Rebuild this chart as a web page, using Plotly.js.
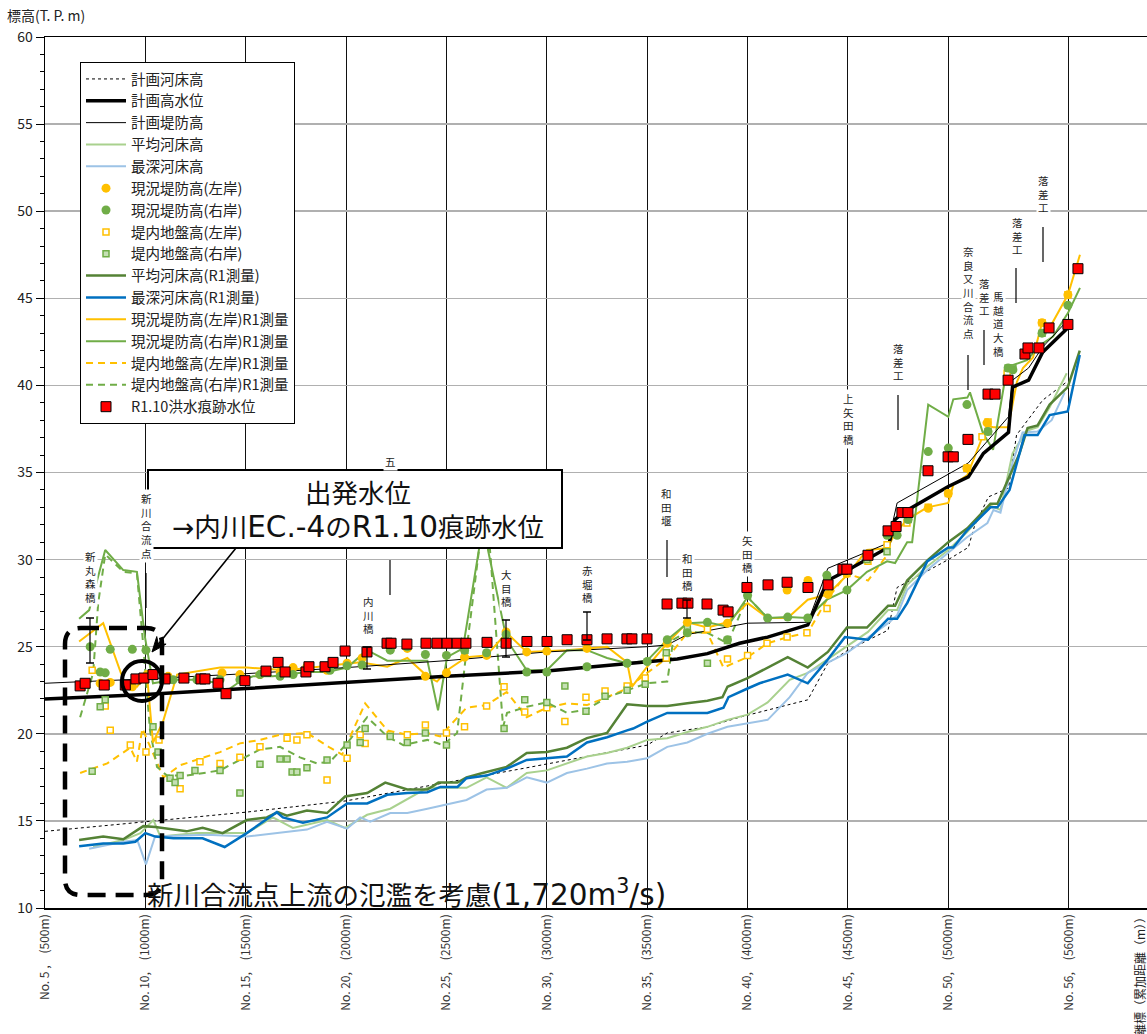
<!DOCTYPE html>
<html><head><meta charset="utf-8">
<script src="https://cdn.plot.ly/plotly-3.0.1.min.js"></script>
<style>html,body{margin:0;padding:0;background:#fff;}</style>
</head><body>
<div id="chart" style="width:1147px;height:1034px;"></div>
<script>
// ---------------- DATA ----------------
const tickVals = [500,1000,1500,2000,2500,3000,3500,4000,4500,5000,5600];
const tickText = ["No. 5 ,　(500m)","No. 10,　(1000m)","No. 15,　(1500m)","No. 20,　(2000m)","No. 25,　(2500m)","No. 30,　(3000m)","No. 35,　(3500m)","No. 40,　(4000m)","No. 45,　(4500m)","No. 50,　(5000m)","No. 56,　(5600m)"];

const planBedX = [500,1000,1500,2000,2500,2900,3500,3600,3800,3960,4300,4400,4500,4700,4745,5000,5100,5130,5200,5300,5340,5470,5590];
const planBedY = [14.4,14.95,15.5,16.15,17.2,18.05,19.35,20.05,20.4,20.95,21.95,24.05,24.8,25.95,28.4,30.0,30.7,31.9,33.6,34.1,37.15,39.15,40.2];

const planHwlX = [500,1000,1500,2000,2500,3000,3500,3650,3800,3960,4100,4300,4400,4500,4700,4735,4775,5000,5100,5175,5300,5320,5400,5470,5600];
const planHwlY = [22.0,22.25,22.6,22.95,23.3,23.6,24.1,24.3,24.6,25.2,25.55,26.25,28.8,29.4,30.7,32.3,32.7,34.2,34.75,36.1,37.3,39.9,40.3,41.9,43.35];

const planLeveeX = [500,1000,1500,2000,2500,3000,3500,3600,3700,4000,4300,4400,4700,4745,5100,5300,5320,5400,5470,5600];
const planLeveeY = [22.9,23.15,23.45,23.8,24.2,24.7,25.0,25.1,25.7,26.35,26.4,29.5,30.95,33.25,35.55,38.2,40.3,41.0,42.2,43.8];

const avgBedX = [740,890,975,1040,1075,1255,1505,1635,1735,1905,1995,2105,2220,2405,2600,2700,2800,2900,3000,3100,3200,3300,3400,3500,3600,3700,3800,3900,4000,4100,4210,4300,4495,4600,4700,4745,4795,4895,5000,5095,5210,5260,5320,5390,5445,5505,5590];
const avgBedY = [13.5,13.9,14.3,15.05,14.1,14.3,14.3,15.2,14.6,15.05,14.6,15.35,15.7,16.9,16.9,17.5,16.9,17.75,17.9,18.3,18.7,18.9,19.2,19.65,19.75,20.1,20.4,20.8,21.1,21.8,23.1,23.5,25.0,25.85,27.1,27.1,28.55,29.6,30.55,31.6,33.1,32.85,36.1,37.4,37.6,38.75,40.7];

const deepBedX = [720,890,960,1003,1048,1305,1505,1805,1905,2005,2070,2120,2220,2305,2405,2600,2700,2800,2900,3000,3100,3200,3300,3400,3500,3600,3700,3800,3900,4000,4100,4210,4300,4495,4600,4700,4745,4795,4895,5000,5095,5195,5225,5260,5320,5370,5445,5515,5580];
const deepBedY = [13.4,13.8,13.9,12.5,14.1,14.2,14.1,14.5,14.95,14.55,15.2,14.95,15.45,15.45,15.7,16.2,16.8,16.9,17.5,17.2,17.75,18.0,18.3,18.4,18.6,19.25,19.5,20.0,20.4,20.6,20.8,22.1,23.5,24.65,25.5,26.35,26.8,28.25,29.4,30.4,31.3,32.1,32.85,32.7,35.55,37.3,37.35,38.0,39.6];

const avgBedR1X = [670,790,890,990,1050,1205,1285,1385,1505,1605,1660,1705,1805,1905,1995,2105,2195,2305,2405,2460,2555,2600,2680,2800,2900,3000,3100,3200,3300,3400,3500,3600,3700,3800,3875,3900,4000,4100,4200,4300,4400,4495,4595,4700,4735,4795,4900,5000,5095,5210,5245,5355,5395,5445,5505,5595,5655];
const avgBedR1Y = [13.9,14.1,13.95,14.7,14.65,14.4,14.6,14.3,15.05,15.2,15.5,15.3,15.6,15.45,16.4,16.6,17.2,16.8,16.8,17.2,17.2,17.5,17.75,18.1,18.9,18.95,19.2,19.75,20.05,21.7,21.6,21.6,21.75,21.9,22.1,22.7,23.2,23.8,24.4,23.8,24.7,26.1,26.1,27.35,27.35,28.8,30.0,31.0,31.8,33.2,33.2,36.1,37.55,37.7,38.9,39.9,42.0];

const deepBedR1X = [670,790,890,950,1000,1050,1140,1285,1395,1505,1655,1685,1785,1905,2005,2105,2205,2305,2405,2470,2555,2600,2700,2800,2900,3000,3100,3200,3300,3400,3430,3500,3600,3700,3800,3880,3905,4000,4060,4200,4300,4395,4485,4600,4700,4745,4795,4895,5000,5025,5095,5210,5245,5305,5380,5445,5505,5595,5655];
const deepBedR1Y = [13.55,13.7,13.7,13.8,14.3,14.1,14.0,14.0,13.5,14.3,15.5,15.2,14.9,15.2,16.0,16.0,16.5,16.6,16.65,16.95,16.95,17.45,17.6,18.0,18.5,18.6,18.7,19.5,19.8,20.2,20.3,20.7,21.2,21.2,21.2,21.5,22.1,22.6,22.9,23.4,22.9,24.2,25.55,25.4,26.6,26.6,27.5,29.9,30.7,30.7,31.7,33.0,33.0,34.0,37.15,37.15,38.3,38.5,41.75];

const leftLeveeR1X = [670,790,890,958,1008,1038,1088,1158,1372,1505,1705,1855,2070,2205,2305,2405,2453,2503,2600,2700,2800,2900,3000,3100,3200,3300,3400,3424,3500,3600,3700,3800,3900,4000,4100,4200,4300,4400,4495,4595,4695,4735,4795,4895,5000,5025,5095,5168,5193,5223,5298,5342,5372,5422,5467,5507,5596,5656];
const leftLeveeR1Y = [25.3,26.35,23.1,22.7,23.4,19.5,20.7,23.4,23.8,23.8,23.65,23.85,24.1,23.85,24.35,23.3,23.0,23.65,24.4,24.5,25.8,24.7,24.75,24.8,24.9,25.0,24.1,22.7,23.85,25.2,26.4,26.1,26.4,27.5,26.65,26.65,27.7,28.0,29.1,30.55,30.65,31.5,32.3,33.0,33.25,34.3,34.85,37.05,37.7,37.6,37.6,40.2,41.0,41.6,43.6,43.35,45.2,47.5];

const rightLeveeR1X = [670,720,800,890,958,998,1038,1138,1257,1372,1397,1471,1536,1636,1805,1905,2005,2105,2205,2405,2458,2503,2582,2667,2692,2707,2800,2900,3000,3100,3200,3300,3400,3500,3600,3700,3800,3900,4000,4100,4200,4300,4395,4495,4595,4695,4735,4795,4820,4900,5000,5025,5095,5108,5173,5223,5293,5392,5457,5522,5596,5656];
const rightLeveeR1Y = [26.6,27.1,30.55,29.4,29.3,25.55,22.9,23.1,23.1,22.9,22.4,23.0,23.3,23.3,23.55,23.55,23.8,24.8,24.2,24.2,21.35,24.4,24.9,30.95,33.5,30.55,25.4,23.65,23.65,24.8,24.8,24.35,24.05,24.2,25.4,26.35,26.4,26.15,27.85,26.65,26.7,26.65,27.7,28.25,29.3,29.9,29.8,31.0,31.0,38.9,38.2,39.2,39.3,39.6,37.25,36.3,41.05,41.45,42.3,42.8,44.15,45.6];

const leftGroundR1X = [675,810,925,958,985,1090,1175,1372,1471,1571,1671,1805,1920,1980,2095,2205,2305,2405,2468,2600,2700,2800,2900,3000,3100,3200,3300,3400,3500,3600,3700,3800,3880,4000,4100,4200,4300,4395,4495,4600,4695];
const leftGroundR1Y = [17.75,18.3,19.2,18.4,20.3,17.5,18.2,18.95,19.45,19.65,19.95,20.05,19.2,18.8,21.75,20.2,19.95,20.05,19.85,21.5,21.65,22.4,20.95,21.5,21.75,21.65,22.1,22.6,23.5,24.35,25.8,25.8,23.8,24.4,25.2,25.55,25.8,27.7,29.2,28.8,30.25];

const rightGroundR1X = [675,740,765,800,890,958,990,1023,1058,1108,1207,1372,1471,1571,1671,1770,1855,1920,2005,2105,2205,2285,2405,2483,2553,2602,2667,2692,2717,2782,2802,2900,3000,3100,3200,3300,3400,3500,3600,3630,3700,3800,3900,4000,4100];
const rightGroundR1Y = [20.95,23.5,27.5,30.3,29.3,29.2,25.0,20.2,18.1,17.6,17.6,17.9,18.5,19.1,19.25,18.65,18.3,18.4,19.45,20.95,19.85,19.35,19.65,19.35,20.05,25.0,31.0,33.5,30.55,20.4,21.2,21.55,21.8,21.2,21.4,22.1,22.5,22.9,23.0,25.4,25.85,25.8,25.2,27.85,26.65];

const leftLeveeX = [775,825,935,1008,1113,1382,1471,1571,1671,1736,1805,1905,2005,2080,2220,2305,2395,2500,2590,2700,2797,2900,3000,3200,3600,3700,3900,4197,4301,4401,4495,4900,5000,5093,5193,5467,5596];
const leftLeveeY = [22.9,22.95,22.7,23.4,23.3,23.5,23.4,23.4,23.55,23.8,23.85,23.65,24.05,24.35,24.9,24.9,23.3,23.5,24.4,24.5,25.85,24.7,24.75,24.9,25.2,26.4,26.35,28.25,28.8,28.0,29.2,32.95,33.8,35.25,37.85,43.6,45.2];

const rightLeveeX = [725,775,800,825,935,1003,1138,1257,1372,1471,1571,1671,1736,1920,2005,2080,2220,2305,2395,2500,2590,2700,2797,2900,3000,3200,3400,3500,3600,3700,3800,3900,4000,4100,4200,4300,4395,4495,4695,4745,4800,4900,5000,5093,5198,5298,5322,5467,5596];
const rightLeveeY = [25.0,23.55,23.5,24.85,24.85,24.8,23.1,23.1,23.1,23.1,23.4,23.3,23.4,23.65,23.9,23.95,24.8,25.0,24.55,24.5,24.8,24.65,25.7,23.55,23.55,23.85,24.05,24.15,25.4,25.8,26.4,25.4,27.95,26.65,26.7,26.65,29.1,28.25,31.4,31.4,32.3,36.2,36.4,38.9,37.35,41.0,40.9,43.0,44.6];

const leftGroundX = [735,800,825,925,1003,1068,1173,1272,1372,1471,1571,1706,1755,1805,1905,2005,2070,2095,2220,2305,2395,2500,2590,2700,2787,2890,3000,3090,3195,3290,3400,3490,3595,3700,3800,3900,4000,4097,4197,4296,4396,4495,4600,4695,4794,4900,5000,5093,5168,5198,5293,5467,5596];
const leftGroundY = [23.65,21.6,20.2,19.35,18.95,19.65,16.85,18.4,18.3,18.65,19.25,19.75,19.65,19.95,17.35,18.6,19.95,19.45,19.95,19.95,20.5,20.05,20.4,21.6,22.7,21.25,21.5,20.7,22.1,22.45,22.75,23.2,24.35,25.8,26.0,24.3,24.5,25.2,25.55,25.8,27.2,29.2,29.9,30.85,32.1,33.0,33.8,35.25,37.05,37.9,40.7,43.6,45.2];

const rightGroundX = [735,775,800,1038,1063,1123,1148,1173,1247,1372,1471,1571,1671,1706,1731,1755,1805,1905,2005,2070,2095,2220,2305,2395,2500,2592,2787,2890,3000,3090,3195,3290,3400,3490,3595,3700,3800,3900,4000,4396,4595,4695,4800,5198,5298,5322,5467];
const rightGroundY = [17.85,21.55,21.95,20.4,18.95,17.45,17.2,17.6,17.9,17.9,16.6,18.25,18.55,18.55,17.8,17.8,18.05,18.5,19.35,19.5,20.3,19.85,19.5,20.05,19.35,24.8,20.3,21.95,21.8,22.75,21.3,22.15,22.5,22.85,24.65,26.1,24.05,25.35,27.95,29.0,30.0,30.45,32.3,37.35,41.0,41.0,43.0];

const floodMarkX = [675,700,795,900,953,993,1038,1098,1192,1277,1297,1362,1402,1496,1601,1661,1696,1800,1815,1895,1935,1995,2104,2204,2224,2303,2398,2453,2503,2553,2597,2702,2797,2901,3001,3101,3200,3300,3399,3424,3499,3599,3673,3703,3798,3878,3903,3997,4102,4197,4301,4401,4475,4495,4600,4700,4740,4769,4799,4899,4999,5025,5098,5198,5233,5298,5382,5397,5452,5502,5596,5646];
const floodMarkY = [22.75,22.9,22.8,22.8,23.15,23.2,23.4,23.15,23.2,23.15,23.15,22.9,22.3,23.05,23.6,24.1,23.55,23.55,23.85,23.85,24.1,24.75,24.7,25.2,25.2,25.15,25.2,25.2,25.2,25.2,25.2,25.25,25.2,25.3,25.3,25.4,25.4,25.45,25.45,25.45,25.45,27.45,27.5,27.5,27.45,27.1,27.0,28.4,28.55,28.7,28.4,28.55,29.45,29.45,30.25,31.65,31.9,32.7,32.7,35.1,35.9,35.9,36.9,39.5,39.5,40.3,41.8,42.15,42.15,43.3,43.5,46.7];

// place labels: [text, pixel x, pixel y of first char]
const placeLabels = [
  ['新丸森橋', 90, 557], ['新川合流点', 146, 499], ['五', 390, 461], ['内川橋', 368, 601],
  ['大目橋', 506, 574], ['赤堀橋', 587, 570], ['和田堰', 667, 493], ['和田橋', 687, 558],
  ['矢田橋', 747, 540], ['上矢田橋', 848, 399], ['落差工', 898, 348], ['奈良又川合流点', 968, 252],
  ['落差工', 984, 283], ['馬越道大橋', 998, 297], ['落差工', 1017, 222], ['落差工', 1043, 180]
];
// leader lines: [x, y top, y bottom, caps]
const leaderLines = [
  [90,618,663,true],[146,573,608,false],[390,560,595,false],[367,647,669,true],
  [506,620,657,true],[587,612,640,true],[667,540,577,false],[687,600,618,true],
  [898,395,430,false],[968,355,390,false],[984,330,365,false],[1016,268,303,false],[1043,227,262,false]
];

// ---------------- LAYOUT HELPERS ----------------
const FONT = '"Noto Sans CJK JP", "Noto Sans", sans-serif';
const FONT_BIG = '"DejaVu Sans", "Noto Sans CJK JP", sans-serif';
const PX0 = 45, PY0 = 908, PW = 1102, PH = 871;
const fx = px => (px - PX0) / PW;
const fy = py => (PY0 - py) / PH;
const big = (s, size) => '<span style="font-size:' + size + 'px">' + s + '</span>';

const GOLD = '#FFC000', GREEN = '#70AD47', DKGREEN = '#548235', BLUE = '#0070C0', LTGREEN = '#A9D18E', LTBLUE = '#9DC3E6';

function ln(name, x, y, color, width, dash, rank) {
  return {type:'scatter', mode:'lines', name, x, y, line:{color, width, dash}, legendrank: rank, hoverinfo:'skip'};
}
function mk(name, x, y, symbol, size, fill, lc, lw, rank) {
  return {type:'scatter', mode:'markers', name, x, y, marker:{symbol, size, color: fill, line:{color: lc, width: lw}}, legendrank: rank, hoverinfo:'skip'};
}

const traces = [
  ln('計画河床高', planBedX, planBedY, '#000', 1, 'dot', 1),
  ln('平均河床高', avgBedX, avgBedY, LTGREEN, 2, 'solid', 4),
  ln('最深河床高', deepBedX, deepBedY, LTBLUE, 2, 'solid', 5),
  ln('平均河床高(R1測量)', avgBedR1X, avgBedR1Y, DKGREEN, 2.5, 'solid', 10),
  ln('最深河床高(R1測量)', deepBedR1X, deepBedR1Y, BLUE, 2.5, 'solid', 11),
  ln('堤内地盤高(左岸)R1測量', leftGroundR1X, leftGroundR1Y, GOLD, 2, '7px,5px', 14),
  ln('堤内地盤高(右岸)R1測量', rightGroundR1X, rightGroundR1Y, GREEN, 2, '7px,5px', 15),
  ln('現況堤防高(左岸)R1測量', leftLeveeR1X, leftLeveeR1Y, GOLD, 2, 'solid', 12),
  ln('現況堤防高(右岸)R1測量', rightLeveeR1X, rightLeveeR1Y, GREEN, 2, 'solid', 13),
  ln('計画堤防高', planLeveeX, planLeveeY, '#000', 1, 'solid', 3),
  ln('計画高水位', planHwlX, planHwlY, '#000', 3.5, 'solid', 2),
  mk('堤内地盤高(左岸)', leftGroundX, leftGroundY, 'square', 6, '#fff', GOLD, 1.5, 8),
  mk('堤内地盤高(右岸)', rightGroundX, rightGroundY, 'square', 6, '#C5E0B4', GREEN, 1.5, 9),
  mk('現況堤防高(左岸)', leftLeveeX, leftLeveeY, 'circle', 9, GOLD, GOLD, 0, 6),
  mk('現況堤防高(右岸)', rightLeveeX, rightLeveeY, 'circle', 9, GREEN, GREEN, 0, 7),
  mk('R1.10洪水痕跡水位', floodMarkX, floodMarkY, 'square', 10, '#FF0000', '#000', 1, 16)
];

const shapes = [];
const annotations = [];

// leader lines
leaderLines.forEach(([x, y1, y2, caps]) => {
  shapes.push({type:'line', xref:'paper', yref:'paper', x0:fx(x), x1:fx(x), y0:fy(y1), y1:fy(y2), line:{color:'#000', width:1.2}, layer:'above'});
  if (caps) {
    shapes.push({type:'line', xref:'paper', yref:'paper', x0:fx(x-4), x1:fx(x+4), y0:fy(y1), y1:fy(y1), line:{color:'#000', width:1.5}, layer:'above'});
    shapes.push({type:'line', xref:'paper', yref:'paper', x0:fx(x-4), x1:fx(x+4), y0:fy(y2), y1:fy(y2), line:{color:'#000', width:1.5}, layer:'above'});
  }
});

// vertical place labels (one character per line)
const LBL_SIZE = 10.5, LBL_STEP = LBL_SIZE * 1.3;
placeLabels.forEach(([txt, x, y0]) => {
  const chars = Array.from(txt);
  const yc = y0 + (chars.length - 1) * LBL_STEP / 2;
  annotations.push({xref:'paper', yref:'paper', x:fx(x), y:fy(yc), text:chars.join('<br>'), showarrow:false,
    xanchor:'center', yanchor:'middle', align:'center', font:{family:FONT, size:LBL_SIZE, color:'#222'}, bgcolor:'#fff', borderpad:1});
});

// dashed rounded rectangle
(function(){
  const x0=65, x1=162, y0=628, y1=895, r=16;
  const P = (px,py)=> fx(px).toFixed(5)+','+fy(py).toFixed(5);
  const path = 'M'+P(x0+r,y0)+' L'+P(x1-r,y0)+' Q'+P(x1,y0)+' '+P(x1,y0+r)+
    ' L'+P(x1,y1-r)+' Q'+P(x1,y1)+' '+P(x1-r,y1)+' L'+P(x0+r,y1)+' Q'+P(x0,y1)+' '+P(x0,y1-r)+
    ' L'+P(x0,y0+r)+' Q'+P(x0,y0)+' '+P(x0+r,y0)+' Z';
  shapes.push({type:'path', xref:'paper', yref:'paper', path, line:{color:'#000', width:4.5, dash:'18px,10px'}, layer:'above'});
})();

// circle around the starting point
shapes.push({type:'circle', xref:'paper', yref:'paper', x0:fx(122), x1:fx(162), y0:fy(701), y1:fy(661), line:{color:'#000', width:4}, layer:'above'});

// callout box
shapes.push({type:'rect', xref:'paper', yref:'paper', x0:fx(148), x1:fx(562), y0:fy(548), y1:fy(470), fillcolor:'#fff', line:{color:'#000', width:2}, layer:'above'});
annotations.push({xref:'paper', yref:'paper', x:fx(358), y:fy(511),
  text:'出発水位<br>→内川' + big('EC.-4', 29.5) + 'の' + big('R1.10', 29.5) + '痕跡水位', showarrow:false, align:'center',
  xanchor:'center', yanchor:'middle', font:{family:FONT_BIG, size:26.5, color:'#111'}});

// arrow (line + notched head) from the callout to the dashed box
(function(){
  const tx=236, ty=548, hx=152, hy=652;
  const L = Math.hypot(hx-tx, hy-ty), ux=(hx-tx)/L, uy=(hy-ty)/L, nx=-uy, ny=ux;
  const bx=hx-15*ux, by=hy-15*uy, kx=hx-10*ux, ky=hy-10*uy;
  shapes.push({type:'line', xref:'paper', yref:'paper', x0:fx(tx), y0:fy(ty), x1:fx(kx), y1:fy(ky), line:{color:'#000', width:1.6}, layer:'above'});
  const P = (px,py)=> fx(px).toFixed(5)+','+fy(py).toFixed(5);
  const path = 'M'+P(hx,hy)+' L'+P(bx+6*nx,by+6*ny)+' L'+P(kx,ky)+' L'+P(bx-6*nx,by-6*ny)+' Z';
  shapes.push({type:'path', xref:'paper', yref:'paper', path, fillcolor:'#000', line:{color:'#000', width:1}, layer:'above'});
})();

// bottom note
annotations.push({xref:'paper', yref:'paper', x:fx(145), y:fy(893),
  text:'新川合流点上流の氾濫を考慮' + big('(1,720m<sup>3</sup>/s)', 29.5), showarrow:false,
  xanchor:'left', yanchor:'middle', font:{family:FONT_BIG, size:26.5, color:'#111'}});
// axis titles
annotations.push({xref:'paper', yref:'paper', x:fx(5), y:fy(15), text:'標高(T. P. m)', showarrow:false, xanchor:'left', yanchor:'middle',
  font:{family:FONT, size:14, color:'#222'}});
annotations.push({xref:'paper', yref:'paper', x:fx(1139), y:fy(980), text:'距離標（累加距離（m））', showarrow:false, textangle:-90,
  xanchor:'center', yanchor:'middle', font:{family:FONT, size:12, color:'#222'}});

const layout = {
  width:1147, height:1034,
  margin:{l:PX0, r:0, t:37, b:126, pad:0},
  paper_bgcolor:'#fff', plot_bgcolor:'#fff',
  font:{family:FONT, color:'#222'},
  showlegend:true,
  legend:{x:fx(80), y:fy(62), xanchor:'left', yanchor:'top', bgcolor:'#fff', bordercolor:'#000', borderwidth:1,
    font:{family:FONT, size:14.5, color:'#222'}, itemwidth:40, traceorder:'normal', tracegroupgap:0},
  xaxis:{range:[500, 500 + PW/0.20073], tickmode:'array', tickvals:tickVals, ticktext:tickText, tickangle:-90,
    tickfont:{family:FONT, size:12, color:'#333'}, ticks:'', showgrid:true, gridcolor:'#111', gridwidth:1,
    showline:true, linecolor:'#000', linewidth:1.5, mirror:true, zeroline:false, automargin:false, fixedrange:true},
  yaxis:{range:[10,60], dtick:5, tick0:10, tickfont:{family:FONT, size:14, color:'#222'}, ticks:'outside', ticklen:8, tickcolor:'#000',
    minor:{dtick:1, ticks:'outside', ticklen:4, tickcolor:'#000', showgrid:false},
    showgrid:true, gridcolor:'#b0b0b0', gridwidth:1.5, showline:true, linecolor:'#000', linewidth:1.5, zeroline:false, automargin:false, fixedrange:true},
  shapes, annotations
};

Plotly.newPlot('chart', traces, layout, {displayModeBar:false, staticPlot:true});
</script>
</body></html>
